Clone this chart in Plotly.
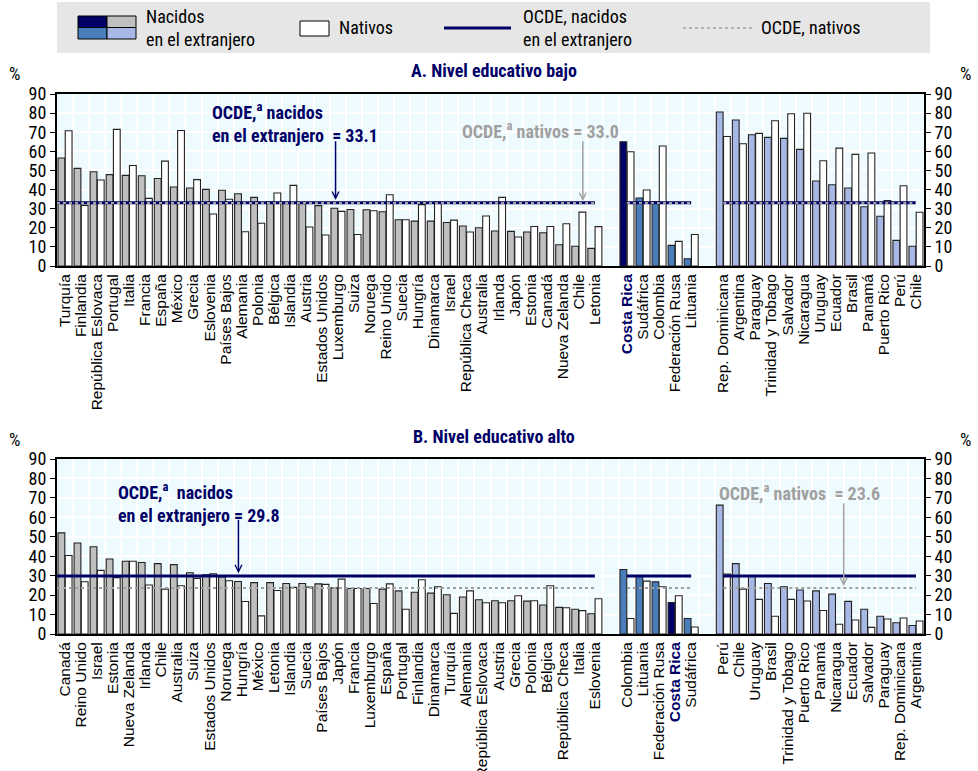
import plotly.graph_objects as go

# ---------------- DATA ----------------
# Panel A: low education
a_oecd = ["Turquía","Finlandia","República Eslovaca","Portugal","Italia","Francia","España","México","Grecia",
          "Eslovenia","Países Bajos","Alemania","Polonia","Bélgica","Islandia","Austria","Estados Unidos",
          "Luxemburgo","Suiza","Noruega","Reino Unido","Suecia","Hungría","Dinamarca","Israel",
          "República Checa","Australia","Irlanda","Japón","Estonia","Canadá","Nueva Zelanda","Chile","Letonia"]
a_oecd_foreign = [56.5,51.1,49.3,47.8,47.4,47.2,45.8,41.3,40.8,40.1,39.6,37.8,35.9,33.5,33.3,33.0,31.6,
                  30.2,29.6,29.4,28.4,24.2,23.5,23.5,22.8,20.9,20.0,18.3,18.1,17.8,17.4,11.1,10.3,9.2]
a_oecd_native = [70.8,31.7,45.0,71.5,52.6,35.4,54.9,70.9,45.2,27.2,34.9,17.9,22.4,38.2,42.2,20.4,16.2,
                 28.6,16.5,28.9,37.3,24.2,32.1,33.5,24.0,17.8,26.2,35.9,15.2,20.7,20.7,22.1,28.2,20.6]
a_partner = ["Costa Rica","Sudáfrica","Colombia","Federación Rusa","Lituania"]
a_partner_foreign = [65.0,35.6,33.6,10.8,3.8]
a_partner_native = [59.8,39.8,62.8,12.9,16.5]
a_latam = ["Rep. Dominicana","Argentina","Paraguay","Trinidad y Tobago","Salvador","Nicaragua","Uruguay",
           "Ecuador","Brasil","Panamá","Puerto Rico","Perú","Chile"]
a_latam_foreign = [80.6,76.4,68.7,67.3,66.8,61.0,44.5,42.5,40.8,31.0,26.0,13.4,10.3]
a_latam_native = [67.8,64.0,69.4,76.0,79.7,79.9,55.1,61.7,58.4,59.1,34.2,42.0,28.1]
a_oecd_avg_foreign = 33.1
a_oecd_avg_native = 33.0

# Panel B: high education
b_oecd = ["Canadá","Reino Unido","Israel","Estonia","Nueva Zelanda","Irlanda","Chile","Australia","Suiza",
          "Estados Unidos","Noruega","Hungría","México","Letonia","Islandia","Suecia","Países Bajos","Japón",
          "Francia","Luxemburgo","España","Portugal","Finlandia","Dinamarca","Turquía","Alemania",
          "República Eslovaca","Austria","Grecia","Polonia","Bélgica","República Checa","Italia","Eslovenia"]
b_oecd_foreign = [52.0,46.8,44.9,38.6,37.4,36.8,36.2,35.7,31.5,30.4,29.3,27.0,26.4,26.4,26.0,26.0,25.8,23.7,
                  23.4,23.4,23.1,22.2,21.5,21.0,20.2,19.0,17.6,17.1,17.1,16.9,14.9,13.7,12.7,10.4]
b_oecd_native = [40.4,26.9,32.7,29.0,37.4,25.2,23.1,24.8,28.6,30.9,27.4,16.7,9.3,22.4,24.0,24.1,25.5,28.2,
                 23.4,15.7,25.8,12.7,27.9,24.3,10.6,22.2,16.1,16.1,19.7,17.1,24.8,13.5,12.0,18.1]
b_partner = ["Colombia","Lituania","Federación Rusa","Costa Rica","Sudáfrica"]
b_partner_foreign = [33.2,29.9,26.8,16.2,8.0]
b_partner_native = [8.0,27.2,24.3,19.7,3.6]
b_latam = ["Perú","Chile","Uruguay","Brasil","Trinidad y Tobago","Puerto Rico","Panamá","Nicaragua",
           "Ecuador","Salvador","Paraguay","Rep. Dominicana","Argentina"]
b_latam_foreign = [66.3,36.2,29.9,26.0,24.3,22.6,22.2,20.5,16.8,12.7,9.1,5.8,4.4]
b_latam_native = [30.8,23.1,17.8,9.1,17.8,17.0,12.1,5.0,7.2,3.4,7.7,8.2,6.7]
b_oecd_avg_foreign = 29.8
b_oecd_avg_native = 23.6

# ---------------- STYLE ----------------
W, H = 978, 771
NAVY = "#000066"
GRAY = "#BFBFBF"
MIDBLUE = "#4A7EBB"
LIGHTBLUE = "#A7B8E4"
AVGGRAY = "#A0A0A0"
BG = "#EEFBFE"
NARROW = "Liberation Sans Narrow, Arial Narrow, Roboto Condensed, DejaVu Sans Condensed, sans-serif"
REG = "Liberation Sans, Arial, sans-serif"


def px(x):
    return x / W


def py(y):
    return 1 - y / H


X0, X1 = 57, 924
DOMAINS = {"A": (94, 266), "B": (459, 634)}

fig = go.Figure()


def build_panel(idx, oecd, of, on, part, pf, pn, lat, lf, ln, avg_f, avg_n):
    xa = "x" if idx == 1 else "x2"
    ya = "y" if idx == 1 else "y2"
    n1, n2, n3 = len(oecd), len(part), len(lat)
    pos1 = list(range(n1))
    pos2 = [n1 + 1 + i for i in range(n2)]
    pos3 = [n1 + n2 + 2 + i for i in range(n3)]
    pos = pos1 + pos2 + pos3
    cats = oecd + part + lat
    foreign = of + pf + lf
    native = on + pn + ln
    colors = [GRAY] * n1 + [NAVY if c == "Costa Rica" else MIDBLUE for c in part] + [LIGHTBLUE] * n3
    fig.add_trace(go.Bar(x=pos, y=foreign, marker=dict(color=colors, line=dict(color="#222", width=1.1)),
                         xaxis=xa, yaxis=ya, showlegend=False, offsetgroup="f"))
    fig.add_trace(go.Bar(x=pos, y=native, marker=dict(color="white", line=dict(color="#222", width=1.1)),
                         xaxis=xa, yaxis=ya, showlegend=False, offsetgroup="n"))
    segs_x = [-0.5, pos1[-1], None, pos2[0], pos2[-1], None, pos3[0], pos3[-1]]
    fig.add_trace(go.Scatter(x=segs_x, y=[avg_f, avg_f, None] * 2 + [avg_f, avg_f], mode="lines",
                             line=dict(color=NAVY, width=3), xaxis=xa, yaxis=ya, showlegend=False,
                             hoverinfo="skip"))
    fig.add_trace(go.Scatter(x=segs_x, y=[avg_n, avg_n, None] * 2 + [avg_n, avg_n], mode="lines",
                             line=dict(color=AVGGRAY, width=2, dash="dot"), xaxis=xa, yaxis=ya,
                             showlegend=False, hoverinfo="skip"))
    # dummy for right axis
    fig.add_trace(go.Scatter(x=[0], y=[0], mode="markers", marker=dict(opacity=0), xaxis=xa,
                             yaxis="y3" if idx == 1 else "y4", showlegend=False, hoverinfo="skip"))
    ticktext = ["<b><span style='color:%s'>%s</span></b>" % (NAVY, c) if c == "Costa Rica" else c for c in cats]
    return pos, ticktext, n1 + n2 + n3 + 2


posA, ttA, nslotA = build_panel(1, a_oecd, a_oecd_foreign, a_oecd_native, a_partner, a_partner_foreign,
                                a_partner_native, a_latam, a_latam_foreign, a_latam_native,
                                a_oecd_avg_foreign, a_oecd_avg_native)
posB, ttB, nslotB = build_panel(2, b_oecd, b_oecd_foreign, b_oecd_native, b_partner, b_partner_foreign,
                                b_partner_native, b_latam, b_latam_foreign, b_latam_native,
                                b_oecd_avg_foreign, b_oecd_avg_native)


def xaxis_cfg(pos, tt, nslot, anchor):
    return dict(domain=[px(X0), px(X1)], range=[-0.5, nslot - 0.5],
                tickmode="array", tickvals=pos, ticktext=tt, tickangle=-90,
                tickfont=dict(family=REG, size=15.5, color="black"), showgrid=False, zeroline=False,
                showline=True, linewidth=2, linecolor="black", mirror=True, ticks="",
                minor=dict(tickmode="linear", tick0=-0.5, dtick=1, showgrid=True, gridcolor="white",
                           gridwidth=1.5, ticks=""),
                anchor=anchor, fixedrange=True, automargin=False)


def yaxis_cfg(dom, anchor, side="left", overlay=None):
    d = dict(domain=[py(dom[1]), py(dom[0])], range=[0, 90], dtick=10, ticks="outside", ticklen=5,
             tickcolor="black", tickfont=dict(family=NARROW, size=18, color="black"),
             showgrid=(overlay is None), gridcolor="white", gridwidth=1.5, zeroline=False,
             showline=True, linewidth=2, linecolor="black", mirror=(overlay is None), anchor=anchor,
             side=side, fixedrange=True, automargin=False)
    if overlay:
        d["overlaying"] = overlay
        d["showgrid"] = False
    return d


fig.update_layout(
    width=W, height=H, margin=dict(l=0, r=0, t=0, b=0, autoexpand=False),
    paper_bgcolor="white", plot_bgcolor=BG,
    barmode="group", bargap=0.1, bargroupgap=0.06,
    xaxis=xaxis_cfg(posA, ttA, nslotA, "y"),
    xaxis2=xaxis_cfg(posB, ttB, nslotB, "y2"),
    yaxis=yaxis_cfg(DOMAINS["A"], "x"),
    yaxis2=yaxis_cfg(DOMAINS["B"], "x2"),
    yaxis3=yaxis_cfg(DOMAINS["A"], "x", side="right", overlay="y"),
    yaxis4=yaxis_cfg(DOMAINS["B"], "x2", side="right", overlay="y2"),
)

ann = []
shapes = []


def ptext(text, x, y, size=18, color="black", xanchor="center", yanchor="middle", align="left"):
    ann.append(dict(text=text, x=px(x), y=py(y), xref="paper", yref="paper", xanchor=xanchor,
                    yanchor=yanchor, align=align, showarrow=False,
                    font=dict(family=NARROW, size=size, color=color)))


# panel titles and % labels
for title, yt in [("A. Nivel educativo bajo", 70), ("B. Nivel educativo alto", 436)]:
    ptext("<b>%s</b>" % title, 494, yt, size=18, color=NAVY)
    ptext("%", 14, yt + 3, size=18)
    ptext("%", 965, yt + 3, size=18)

# Panel A annotations
ann.append(dict(text="<b>OCDE,<sup>a</sup> nacidos<br>en el extranjero  = %.1f</b>" % a_oecd_avg_foreign,
                x=9.0, y=88.5, xref="x", yref="y", xanchor="left", yanchor="top", align="left",
                showarrow=False, font=dict(family=NARROW, size=18, color=NAVY)))
ann.append(dict(text="", x=16.85, y=a_oecd_avg_foreign + 1.5, xref="x", yref="y", ax=16.85, ay=66,
                axref="x", ayref="y", showarrow=True, arrowhead=5, arrowsize=0.9, arrowwidth=1.5,
                arrowcolor=NAVY))
ann.append(dict(text="<b>OCDE,<sup>a</sup> nativos = %.1f</b>" % a_oecd_avg_native,
                x=24.6, y=71, xref="x", yref="y", xanchor="left", yanchor="middle",
                showarrow=False, font=dict(family=NARROW, size=18, color=AVGGRAY)))
ann.append(dict(text="", x=32.25, y=a_oecd_avg_native + 1.0, xref="x", yref="y", ax=32.25, ay=66,
                axref="x", ayref="y", showarrow=True, arrowhead=5, arrowsize=0.9, arrowwidth=1.5,
                arrowcolor=AVGGRAY))
# Panel B annotations
ann.append(dict(text="<b>OCDE,<sup>a</sup>  nacidos<br>en el extranjero = %.1f</b>" % b_oecd_avg_foreign,
                x=3.2, y=80.5, xref="x2", yref="y2", xanchor="left", yanchor="top", align="left",
                showarrow=False, font=dict(family=NARROW, size=18, color=NAVY)))
ann.append(dict(text="", x=10.8, y=b_oecd_avg_foreign + 1.5, xref="x2", yref="y2", ax=10.8, ay=59.5,
                axref="x2", ayref="y2", showarrow=True, arrowhead=5, arrowsize=0.9, arrowwidth=1.5,
                arrowcolor=NAVY))
ann.append(dict(text="<b>OCDE,<sup>a</sup> nativos  = %.1f</b>" % b_oecd_avg_native,
                x=40.6, y=73, xref="x2", yref="y2", xanchor="left", yanchor="middle",
                showarrow=False, font=dict(family=NARROW, size=18, color=AVGGRAY)))
ann.append(dict(text="", x=48.5, y=b_oecd_avg_native + 1.0, xref="x2", yref="y2", ax=48.5, ay=68,
                axref="x2", ayref="y2", showarrow=True, arrowhead=5, arrowsize=0.9, arrowwidth=1.5,
                arrowcolor=AVGGRAY))

# Custom legend
shapes.append(dict(type="rect", xref="paper", yref="paper", x0=px(57), x1=px(930), y0=py(53), y1=py(2),
                   fillcolor="#E6E6E6", line=dict(width=0), layer="below"))
for (x0, x1, y0, y1, c) in [(78, 107, 16, 27.5, NAVY), (107, 136, 16, 27.5, GRAY),
                            (78, 107, 27.5, 39, MIDBLUE), (107, 136, 27.5, 39, LIGHTBLUE)]:
    shapes.append(dict(type="rect", xref="paper", yref="paper", x0=px(x0), x1=px(x1), y0=py(y1), y1=py(y0),
                       fillcolor=c, line=dict(color="black", width=1)))
shapes.append(dict(type="rect", xref="paper", yref="paper", x0=px(300), x1=px(329), y0=py(36), y1=py(21),
                   fillcolor="white", line=dict(color="black", width=1)))
shapes.append(dict(type="line", xref="paper", yref="paper", x0=px(444), x1=px(511), y0=py(28), y1=py(28),
                   line=dict(color=NAVY, width=3)))
shapes.append(dict(type="line", xref="paper", yref="paper", x0=px(683), x1=px(753), y0=py(28), y1=py(28),
                   line=dict(color=AVGGRAY, width=1.5, dash="dot")))
ptext("Nacidos<br>en el extranjero", 144, 28, xanchor="left")
ptext("Nativos", 337, 28, xanchor="left")
ptext("OCDE, nacidos<br>en el extranjero", 521, 28, xanchor="left")
ptext("OCDE, nativos", 759, 28, xanchor="left")

fig.update_layout(annotations=ann, shapes=shapes)
fig.write_html("out.html", config={"displayModeBar": False},
               post_script="document.body.style.margin='0px';document.body.style.padding='0px';")
